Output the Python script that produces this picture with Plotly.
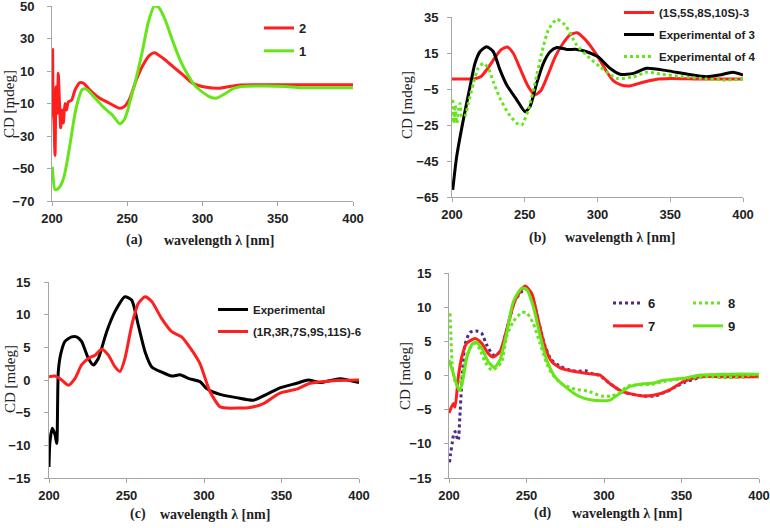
import plotly.graph_objects as go

W, H = 770, 528

# ---------------- Panel (a) ----------------
a_wl_2 = [200.4, 200.9, 201.3, 202.0, 202.7, 203.5, 204.2, 204.9, 205.8, 206.7, 207.5, 208.6, 209.7, 210.8,
          213.0, 215.3, 218.6, 220.8, 225.2, 231.8, 238.5, 245.0, 248.4, 251.7, 256.0, 260.5, 264.9, 268.2,
          273.8, 280.4, 287.0, 293.7, 302.6, 311.6, 318, 325, 340, 360, 380, 400]
a_cd_2 = [24, -16, -20, -42, 0.3, -16, 8.6, -8, -25, -14, -22, -10, -14, -9,
          -8, -1.7, 2.8, 2.5, -1.7, -6.8, -10, -13, -11.6, -6.8, 4.5, 13.7, 19.8, 21.3,
          17.8, 12.7, 7.6, 2.4, 0.0, -0.6, 0.5, 1.4, 1.5, 1.5, 1.5, 1.5]
a_wl_1 = [200.3, 202, 204, 206, 208, 210, 212, 214, 216, 218, 220, 222, 224, 227, 230, 235, 240, 245, 248,
          250, 252, 255, 260, 264, 268, 271, 275, 280, 285, 290, 295, 300, 305, 309, 315, 320, 325,
          340, 355, 365, 380, 400]
a_cd_1 = [-49, -63, -62.5, -60, -55, -46, -35, -23, -13, -6, -1.5, -1, -2, -5, -8, -13, -17, -22.5, -20,
          -15, -8, 2, 22, 40, 50, 49, 42, 29, 17, 8, 1, -3, -6, -6.8, -4, -1, 0.3,
          0.8, 0.5, -0.3, -0.3, -0.3]

# ---------------- Panel (b) ----------------
b_wl_calc = [200, 210, 215, 220, 225, 230, 234, 238, 242, 247, 252, 257, 261, 266, 271, 276, 281, 286,
             291, 296, 301, 306, 311, 316, 322, 330, 340, 350, 370, 400]
b_cd_calc = [0.5, 0.5, 0.6, 2, 7, 13, 17, 18.3, 15, 6, -3, -8.3, -6, 3, 13, 20, 25, 26.3,
             23, 18, 12, 5, -0.5, -2.7, -3.3, -1.5, 0.3, 0.8, 0.5, 0.5]
b_wl_exp3 = [200.5, 203.2, 207.8, 212.4, 215.8, 219.2, 223.8, 228.4, 233.0, 237.6, 244.5, 250.2, 253.6,
             258.2, 262.8, 267.4, 272.0, 278.8, 285.7, 292.6, 299.4, 301.7, 308.6, 315.5, 324.7, 333.8,
             347.5, 361.3, 375.0, 384.0, 393.0, 400.0]
b_cd_exp3 = [-61, -42.6, -22, -3.7, 9.3, 15.7, 18.5, 15.7, 5.6, -2.8, -11, -17.6, -14.8,
             -1.8, 9.3, 15.7, 18.1, 17, 17, 15.7, 13.3, 12, 6.5, 3.2, 3.7, 6.5,
             5.2, 3.3, 1.8, 2.8, 4.3, 2.8]
b_wl_exp4 = [200.5, 201.2, 202.2, 203.3, 204.4, 205.5, 206.6, 208.9, 211.2, 214.7, 218.0, 221.5, 225.0,
             228.4, 233.0, 238.7, 244.5, 247.9, 252.4, 257.0, 261.6, 266.2, 272.0, 277.7, 285.7, 294.8,
             301.7, 313.2, 324.7, 333.8, 343.0, 359.0, 370.0, 388.0, 400.0]
b_cd_exp4 = [-11, -24, -14, -24, -16.7, -13, -20.4, -20, -13, -1.9, 6.5, 9.3, 6.5,
             -1, -10.2, -18.5, -24, -25, -16.7, -1.9, 14.8, 27.8, 33.7, 30.6, 19.4, 12,
             7.4, 0.9, 1.8, 4.3, 3.3, 1.8, 0.9, 0, 0.5]

# ---------------- Panel (c) ----------------
c_wl_exp = [200, 200.6, 202.1, 203.9, 205.0, 206.0, 207.7, 210.3, 214.6, 217.8, 221.0, 225.4, 228.6,
            231.8, 237.2, 242.6, 249.0, 253.4, 257.6, 262.0, 266.3, 272.7, 279.2, 284.5, 289.9, 297.4,
            301.7, 310.3, 321.0, 331.8, 340.4, 349.0, 359.8, 367.3, 374.8, 387.7, 400]
c_cd_exp = [-13.3, -9.5, -7.4, -8.4, -9.7, 1.3, 4.1, 5.9, 6.6, 6.6, 5.9, 3.3, 2.3,
            3.3, 7.4, 10.5, 12.75, 12.2, 8.4, 4.3, 2, 1.2, 0.6, 0.8, 0.25, -0.25,
            -1.3, -2.2, -2.7, -3.1, -2.2, -1.2, -0.5, 0, -0.4, 0.2, -0.4]
c_wl_calc = [200, 203.9, 208.2, 212.5, 216.8, 221.0, 225.4, 229.7, 234.0, 238.3, 242.6, 245.8, 249.0,
             253.4, 257.6, 262.0, 266.3, 272.7, 279.2, 285.6, 292.0, 297.4, 303.9, 310.3, 314.6, 329.7,
             338.3, 349.0, 359.8, 368.4, 383.4, 400]
c_cd_calc = [0.5, 0.6, 0, -0.8, 0.25, 2.3, 3.3, 3.8, 4.7, 3.8, 2, 1.3, 3.3,
             8.4, 11.7, 12.75, 12, 9.4, 7.4, 6.6, 4.6, 2.5, -1.8, -4.1, -4.3, -4.2,
             -3.6, -2, -1.4, -0.5, -0.1, 0]

# ---------------- Panel (d) ----------------
d_wl_6 = [200.3, 201, 202, 203, 204, 205, 206, 207, 208, 209, 210.3, 213.5, 217.8, 221, 224.3, 228.6,
          233, 237, 242.6, 247, 249, 253, 257.6, 262, 266, 272, 278, 283, 288, 292, 297, 304, 312,
          325, 333, 340, 345, 352, 360, 365, 375, 390, 400]
d_cd_6 = [-12.7, -11.5, -10, -8.6, -8.2, -9, -9.5, -6, -2, 1.5, 4.5, 6.3, 6.5, 6.2, 4.5, 3,
          3.5, 6.5, 11, 12.3, 12.7, 12, 8, 4.3, 2.3, 1.3, 0.8, 0.6, 0.7, 0.3, 0, -1.2, -2.4,
          -3, -3, -2.4, -1.8, -1, -0.4, -0.1, -0.2, -0.2, -0.1]
d_wl_7 = [200, 202.8, 203.9, 206.0, 208.2, 211.4, 216.8, 221.1, 225.4, 228.6, 232.9, 237.2, 242.6, 249.0,
          253.4, 257.6, 261.9, 266.3, 272.7, 283.4, 292.0, 297.4, 303.9, 312.5, 325.4, 331.8, 342.6,
          351.2, 362.0, 380, 400]
d_cd_7 = [-5.5, -4.1, -4.6, -0.2, 2.7, 4.7, 5.4, 4.7, 3.2, 2.7, 3.5, 6.7, 11, 13.1,
          12, 8.1, 4.2, 2, 1, 0.5, 0.2, 0.05, -1.2, -2.4, -3, -2.9, -2.1,
          -0.9, -0.2, -0.2, -0.2]
d_wl_8 = [200.6, 201.3, 202, 203.4, 206, 208.2, 210.3, 213.5, 216.8, 220, 223.2, 227.5, 230.8, 234,
          237.2, 241.5, 246.9, 250, 254.4, 258.7, 263, 266.3, 272.7, 281.3, 289.9, 298.5, 305, 310,
          315, 320, 330, 340, 350, 360, 370, 380, 390, 396, 400]
d_cd_8 = [9.1, 5.7, 1.8, -0.6, -1.6, -0.2, 1.8, 4, 4.7, 3.8, 2, 0.8, 1.2, 2,
          5.7, 7.9, 9.2, 9.2, 7.6, 4.7, 1.8, 0.3, -1.2, -2, -2.3, -3, -3, -2.5,
          -1.6, -1.4, -1.3, -0.8, -0.5, -0.2, -0.2, -0.3, -0.2, 0.2, -0.3]
d_wl_9 = [200, 202.8, 205, 207.1, 209.3, 211.4, 214.6, 217.2, 221.1, 225.4, 229.2, 232.9, 237.2, 241.5,
          246.9, 250.1, 254.4, 258.7, 263, 268.4, 274.8, 283.4, 292, 299.6, 303.9, 310.3, 316.8,
          325.4, 331.8, 338.3, 351.2, 362, 380, 400]
d_cd_9 = [2.3, 0.3, -1.4, -2.2, -0.2, 2.5, 4.5, 4.9, 4, 2, 1.2, 2.3, 6.2, 10.8,
          12.8, 12.6, 10.1, 5.9, 2.3, -0.2, -1.6, -3, -3.6, -3.7, -3.6, -2.6, -1.6,
          -1.2, -1.1, -0.7, -0.4, 0.07, 0.2, 0.2]

RED = "#ff1f1f"
GREEN = "#66e61a"
BLACK = "#000000"
PURPLE = "#4a2a8c"

fig = go.Figure()

def tr(x, y, name, color, xa, ya, legend, dash="solid", width=3, group=None):
    fig.add_trace(go.Scatter(
        x=x, y=y, name=name, mode="lines",
        line=dict(color=color, width=width, dash=dash, shape="spline", smoothing=0.6),
        xaxis=xa, yaxis=ya, legend=legend, legendgroup=group or name,
    ))

tr(a_wl_2, a_cd_2, "2", RED, "x", "y", "legend")
tr(a_wl_1, a_cd_1, "1", GREEN, "x", "y", "legend")

tr(b_wl_calc, b_cd_calc, "(1S,5S,8S,10S)-3", RED, "x2", "y2", "legend2")
tr(b_wl_exp3, b_cd_exp3, "Experimental of 3", BLACK, "x2", "y2", "legend2")
tr(b_wl_exp4, b_cd_exp4, "Experimental of 4", GREEN, "x2", "y2", "legend2", dash="dot")

tr(c_wl_exp, c_cd_exp, "Experimental", BLACK, "x3", "y3", "legend3")
tr(c_wl_calc, c_cd_calc, "(1R,3R,7S,9S,11S)-6", RED, "x3", "y3", "legend3")

tr(d_wl_6, d_cd_6, "6", PURPLE, "x4", "y4", "legend4", dash="dot")
tr(d_wl_7, d_cd_7, "7", RED, "x4", "y4", "legend4")
tr(d_wl_8, d_cd_8, "8", GREEN, "x4", "y4", "legend5", dash="dot")
tr(d_wl_9, d_cd_9, "9", GREEN, "x4", "y4", "legend5")

AX = "#a6a6a6"
SANS = "Liberation Sans, Arial, sans-serif"
TICKFONT = dict(family=SANS, size=13, color="#222", weight="bold")

def xaxis(px0, px1):
    return dict(domain=[px0 / W, px1 / W], range=[200, 400], tick0=200, dtick=50,
                showgrid=False, zeroline=False, showline=True, linecolor=AX, linewidth=1,
                ticks="outside", ticklen=4, tickcolor=AX, tickfont=TICKFONT,
                ticklabelstandoff=1, automargin=False, ticklabeloverflow="allow")

def yaxis(pyt, pyb, rng, t0, dt, standoff):
    return dict(domain=[1 - pyb / H, 1 - pyt / H], range=rng, tick0=t0, dtick=dt,
                showgrid=False, zeroline=False, showline=True, linecolor=AX, linewidth=1,
                ticks="outside", ticklen=4, tickcolor=AX, tickfont=TICKFONT,
                ticklabelstandoff=standoff, automargin=False, ticklabeloverflow="allow")

layout = dict(
    width=W, height=H, margin=dict(l=0, r=0, t=0, b=0, autoexpand=False),
    paper_bgcolor="white", plot_bgcolor="white", showlegend=True,
)

xa = xaxis(52, 353); xa["anchor"] = "y"
ya = yaxis(6, 201, [-70, 50], -70, 20, 10); ya["anchor"] = "x"
xb = xaxis(452, 743); xb["anchor"] = "y2"
yb = yaxis(17, 197, [-65, 35], -65, 20, 6); yb["anchor"] = "x2"
xc = xaxis(49, 359); xc["anchor"] = "y3"
yc = yaxis(282, 478, [-15, 15], -15, 5, 11); yc["anchor"] = "x3"
xd = xaxis(449, 759); xd["anchor"] = "y4"
yd = yaxis(273, 478, [-15, 15], -15, 5, 10); yd["anchor"] = "x4"
layout.update(xaxis=xa, yaxis=ya, xaxis2=xb, yaxis2=yb, xaxis3=xc, yaxis3=yc, xaxis4=xd, yaxis4=yd)

def leg(px, py, size=13):
    return dict(x=px / W, y=1 - py / H, xanchor="left", yanchor="top", bgcolor="rgba(0,0,0,0)",
                font=dict(family=SANS, size=size, color="#222", weight="bold"),
                tracegroupgap=3, itemwidth=30, borderwidth=0)

layout.update(
    legend=leg(259, 13),
    legend2=leg(619, -2, 11.5),
    legend3=leg(213, 295, 11.5),
    legend4=leg(608, 288),
    legend5=leg(688, 288),
)

fig.update_layout(**layout)

SERIF = "Liberation Serif, Times New Roman, serif"
def ann(text, px, py, size=14, bold=False, angle=0):
    fig.add_annotation(text=text, x=px / W, y=1 - py / H, xref="paper", yref="paper",
                       xanchor="center", yanchor="middle",
                       showarrow=False, textangle=angle,
                       font=dict(family=SERIF, size=size, color="#222", weight="bold" if bold else "normal"))

# y titles
ann("CD [mdeg]", 9, 104, 15, angle=-90)
ann("CD [mdeg]", 407, 105, 15, angle=-90)
ann("CD [mdeg]", 10, 379, 15, angle=-90)
ann("CD [mdeg]", 405, 376, 15, angle=-90)
# x titles
ann("(a)", 134, 240, 14, True); ann("wavelength \u03bb [nm]", 219, 240, 14, True)
ann("(b)", 537, 238, 14, True); ann("wavelength \u03bb [nm]", 620, 238, 14, True)
ann("(c)", 138, 514, 14, True); ann("wavelength \u03bb [nm]", 215, 514, 14, True)
ann("(d)", 542, 513, 14, True); ann("wavelength \u03bb [nm]", 627, 513, 14, True)

# remove the browser's default 8px body margin so the 770x528 figure fills the window exactly
fig.write_html("out.html", config={"displayModeBar": False},
               post_script="document.body.style.margin='0px';")
